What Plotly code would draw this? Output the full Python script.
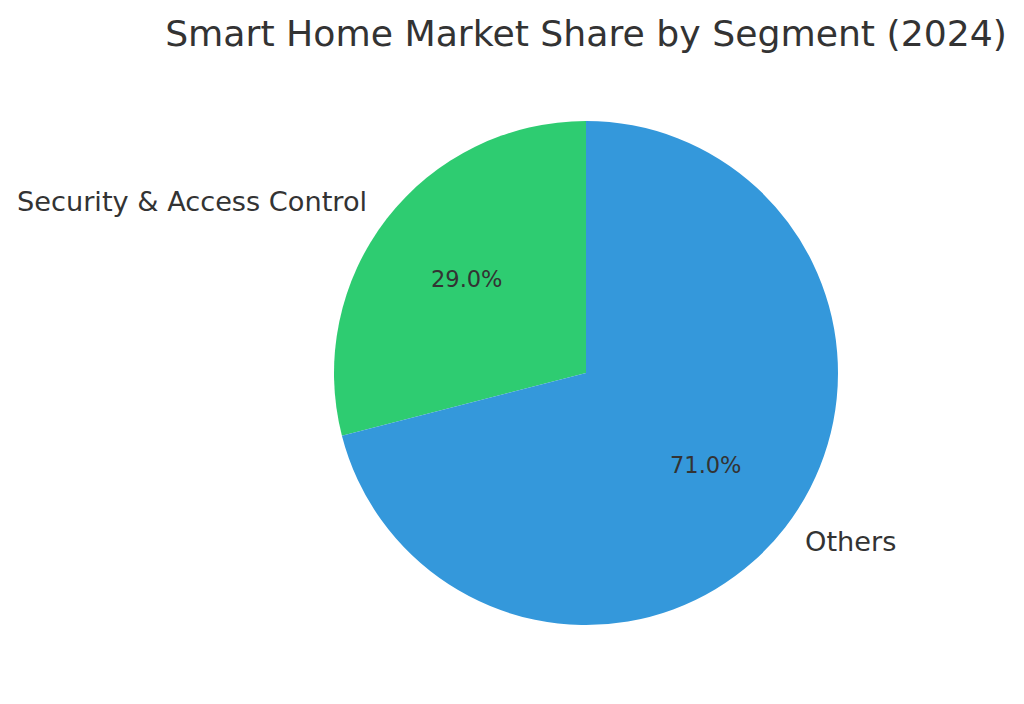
import math
import plotly.graph_objects as go

segments = ["Security & Access Control", "Others"]
shares = [29.0, 71.0]
colors = ["#2ecc71", "#3498db"]

W, H = 1024, 704
off = 8  # page body margin
cx, cy, r = 586 - off, 373 - off, 252  # pie centre / radius in px
txt = "#333333"
total = sum(shares)

# plotly keeps the first slice clockwise of `rotation`; shift it so it sits
# left of 12 o'clock, like matplotlib's startangle=90 counterclockwise
fig = go.Figure(go.Pie(
    labels=segments,
    values=shares,
    sort=False,
    direction="counterclockwise",
    rotation=-shares[0] / total * 360,
    marker=dict(colors=colors, line=dict(width=0)),
    textinfo="none",
    hoverinfo="label+percent",
    showlegend=False,
    domain=dict(x=[(cx - r) / W, (cx + r) / W], y=[1 - (cy + r) / H, 1 - (cy - r) / H]),
))

# labels at 1.1 r and percentages at 0.6 r, like matplotlib autopct
start = 90.0
for name, v in zip(segments, shares):
    sweep = v / total * 360
    mid = math.radians(start + sweep / 2)
    start += sweep
    c, s = math.cos(mid), math.sin(mid)
    fig.add_annotation(
        x=(cx + 1.1 * r * c) / W, y=1 - (cy - 1.1 * r * s - 1.5) / H,
        xref="paper", yref="paper", text=name, showarrow=False,
        xanchor="left" if c > 0 else "right", yanchor="middle",
        xshift=-1 if c > 0 else 1, borderpad=0,
        font=dict(size=27.2, color=txt),
    )
    fig.add_annotation(
        x=(cx + 0.6 * r * c) / W, y=1 - (cy - 0.6 * r * s - 1) / H,
        xref="paper", yref="paper", text=f"{v / total * 100:.1f}%", showarrow=False,
        xanchor="center", yanchor="middle",
        font=dict(size=22.5, color=txt),
    )

fig.update_layout(
    width=W, height=H,
    margin=dict(l=0, r=0, t=0, b=0),
    paper_bgcolor="white",
    font=dict(family="DejaVu Sans", color=txt),
    title=dict(text="Smart Home Market Share by Segment (2024)",
               x=cx / W, xanchor="center", y=1 - (33 - off) / H, yanchor="middle",
               font=dict(size=36.2, color=txt)),
)

fig.write_html("out.html")
